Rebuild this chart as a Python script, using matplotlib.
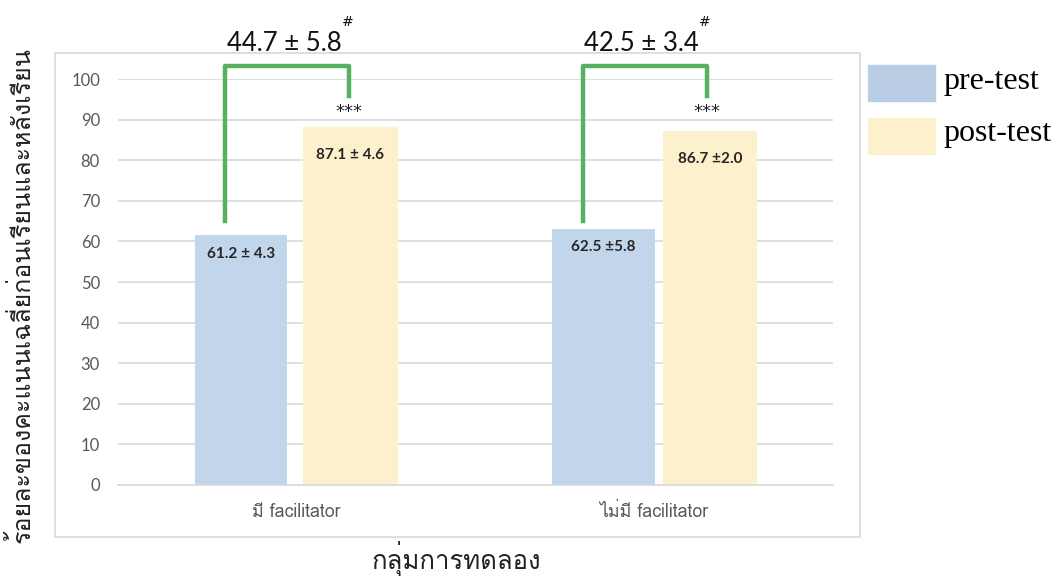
import matplotlib
matplotlib.use("Agg")
import matplotlib.pyplot as plt
from matplotlib import font_manager
from matplotlib.patches import Rectangle
from matplotlib.ft2font import FT2Font
import numpy as np

groups = ['มี facilitator', 'ไม่มี facilitator']
pre_test = [61.6, 63.2]
post_test = [88.2, 87.2]
pre_labels = ['61.2 ± 4.3', '62.5 ±5.8']
post_labels = ['87.1 ± 4.6', '86.7 ±2.0']
gain_labels = ['44.7 ± 5.8', '42.5 ± 3.4']
bracket_low = [65, 65]
bracket_top = [103.2, 103.2]
bracket_end = [95.8, 95.8]
yticks = [0, 10, 20, 30, 40, 50, 60, 70, 80, 90, 100]
series = ['pre-test', 'post-test']


def find_thai_font():
    for f in font_manager.fontManager.ttflist:
        try:
            if FT2Font(f.fname).get_char_index(0x0E01):
                return f.name
        except Exception:
            pass
    return 'DejaVu Sans'


thai = find_thai_font()
plt.rcParams['font.family'] = [thai, 'DejaVu Sans']

fig = plt.figure(figsize=(10.54, 5.78), dpi=100)
ax = fig.add_axes([0.112, 0.161, 0.678, 0.702])

# grey frame round the chart
fig.patches.append(Rectangle((55 / 1054, 1 - 537 / 578), 805 / 1054, 484 / 578,
                             transform=fig.transFigure, fill=False,
                             edgecolor='#d9d9d9', linewidth=1.2))

x = np.arange(len(groups))
pre_off = np.array([-0.155, -0.141])
pre_w = [0.257, 0.288]
post_off = np.array([0.150, 0.157])
post_w = [0.265, 0.265]
pre_x = x + pre_off
post_x = x + post_off
blue = '#c2d6eb'
yellow = '#fcf0cd'
ax.bar(pre_x, pre_test, width=pre_w, color=blue, zorder=2)
ax.bar(post_x, post_test, width=post_w, color=yellow, zorder=2)

lab_font = ['Lato', 'DejaVu Sans']
for i in range(len(groups)):
    ax.text(pre_x[i], pre_test[i] - 4.6, pre_labels[i], ha='center', va='center',
            fontsize=11, fontweight='bold', color='#262626', family=lab_font)
    ax.text(post_x[i], post_test[i] - 6.8, post_labels[i], ha='center', va='center',
            fontsize=11, fontweight='bold', color='#262626', family=lab_font)
    bx0 = x[i] - 0.2
    bx1 = x[i] + 0.147
    ax.plot([bx0, bx0, bx1, bx1], [bracket_low[i], bracket_top[i], bracket_top[i], bracket_end[i]],
            color='#55b05f', linewidth=3.2, clip_on=False, zorder=3)
    ax.text(bx1, 92.0, '***', ha='center', va='center', fontsize=13, color='#222222',
            family=['DejaVu Sans'])
    ax.text(x[i] - 0.035, 108.8, gain_labels[i], ha='center', va='center', fontsize=18.5,
            color='#111111', family=lab_font)
    ax.text(bx1 - 0.005, 114.2, '#', ha='center', va='center', fontsize=10,
            color='#111111', family=['DejaVu Sans'])

ax.set_xlim(-0.5, 1.5)
ax.set_ylim(0, 100)
ax.set_yticks(yticks)
ax.set_xticks(x)
ax.set_xticklabels(groups)
ax.tick_params(axis='y', length=0, pad=13, labelsize=12, labelcolor='#595959')
ax.tick_params(axis='x', length=0, pad=13, labelsize=12.8, labelcolor='#595959')
for t in ax.get_yticklabels():
    t.set_family(lab_font)
ax.grid(axis='y', color='#d9d9d9', linewidth=1.2, zorder=0)
for s in ['top', 'right', 'left']:
    ax.spines[s].set_visible(False)
ax.spines['bottom'].set_color('#d9d9d9')
ax.spines['bottom'].set_linewidth(1.2)

fig.text(0.02, 0.49, 'ร้อยละของคะแนนเฉลี่ยก่อนเรียนและหลังเรียน', rotation=90,
         ha='center', va='center', fontsize=18, color='#222222')
fig.text(0.433, 0.033, 'กลุ่มการทดลอง', ha='center', va='center', fontsize=18.5, color='#222222')

# legend drawn by hand to sit where the reference has it
leg_colors = ['#b9cde5', '#fdf0cc']
for k, name in enumerate(series):
    top = 65 + k * 53
    fig.patches.append(Rectangle((868 / 1054, 1 - (top + 36) / 578), 67 / 1054, 36 / 578,
                                 transform=fig.transFigure, color=leg_colors[k]))
    fig.text(943 / 1054, 1 - (top + 16) / 578, name, ha='left', va='center',
             fontsize=23, family='Liberation Serif', color='#000000')

fig.savefig('out.png', dpi=100)
